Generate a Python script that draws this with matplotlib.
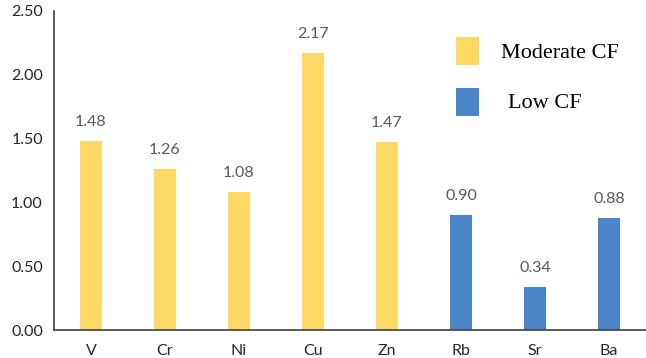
import matplotlib.pyplot as plt
from matplotlib.patches import Rectangle

# Contamination factor per element
ELEMENTS = ["V", "Cr", "Ni", "Cu", "Zn", "Rb", "Sr", "Ba"]
CF_VALUES = [1.48, 1.26, 1.08, 2.17, 1.47, 0.90, 0.34, 0.88]
CF_CLASS = ["Moderate CF"] * 5 + ["Low CF"] * 3
Y_TICKS = [0.0, 0.5, 1.0, 1.5, 2.0, 2.5]

CLASS_COLORS = {"Moderate CF": "#FFD966", "Low CF": "#4A85C7"}
TICK_FONT = "Lato"
LEGEND_FONT = "Liberation Serif"

fig = plt.figure(figsize=(6.46, 3.58), dpi=100)
ax = fig.add_axes([54 / 646, 28 / 358, 592 / 646, 319 / 358])

x = range(len(ELEMENTS))
colors = [CLASS_COLORS[c] for c in CF_CLASS]
bars = ax.bar(x, CF_VALUES, width=0.31, color=colors, zorder=2)

# Value labels above each bar
for rect, val in zip(bars, CF_VALUES):
    ax.annotate(
        f"{val:.2f}",
        (rect.get_x() + rect.get_width() / 2, val),
        xytext=(0, 19),
        textcoords="offset pixels",
        ha="center",
        va="center",
        fontsize=11.5,
        color="#595959",
        family=TICK_FONT,
    )

ax.set_xlim(-0.5, len(ELEMENTS) - 0.5)
ax.set_ylim(0, 2.5)
ax.set_xticks(list(x))
ax.set_xticklabels(ELEMENTS, family=TICK_FONT, fontsize=11.5, color="#262626")
ax.set_yticks(Y_TICKS)
ax.set_yticklabels([f"{t:.2f}" for t in Y_TICKS], family=TICK_FONT, fontsize=11.5,
                   color="#262626")
ax.tick_params(axis="both", length=0)
ax.tick_params(axis="x", pad=10)
ax.tick_params(axis="y", pad=8)

for side in ["top", "right"]:
    ax.spines[side].set_visible(False)
for side in ["left", "bottom"]:
    ax.spines[side].set_color("#404040")
    ax.spines[side].set_linewidth(1.2)

# Hand-placed legend with square swatches
legend_items = [("Moderate CF", 37, 501), ("Low CF", 88, 508)]
for label, top, text_x in legend_items:
    fig.patches.append(
        Rectangle(
            (456 / 646, 1 - (top + 28) / 358),
            23 / 646,
            28 / 358,
            transform=fig.transFigure,
            facecolor=CLASS_COLORS[label],
            edgecolor="none",
        )
    )
    fig.text(
        text_x / 646,
        1 - (top + 16) / 358,
        label,
        family=LEGEND_FONT,
        fontsize=16,
        va="center",
        ha="left",
        color="black",
    )

fig.savefig("out.png", dpi=100)
